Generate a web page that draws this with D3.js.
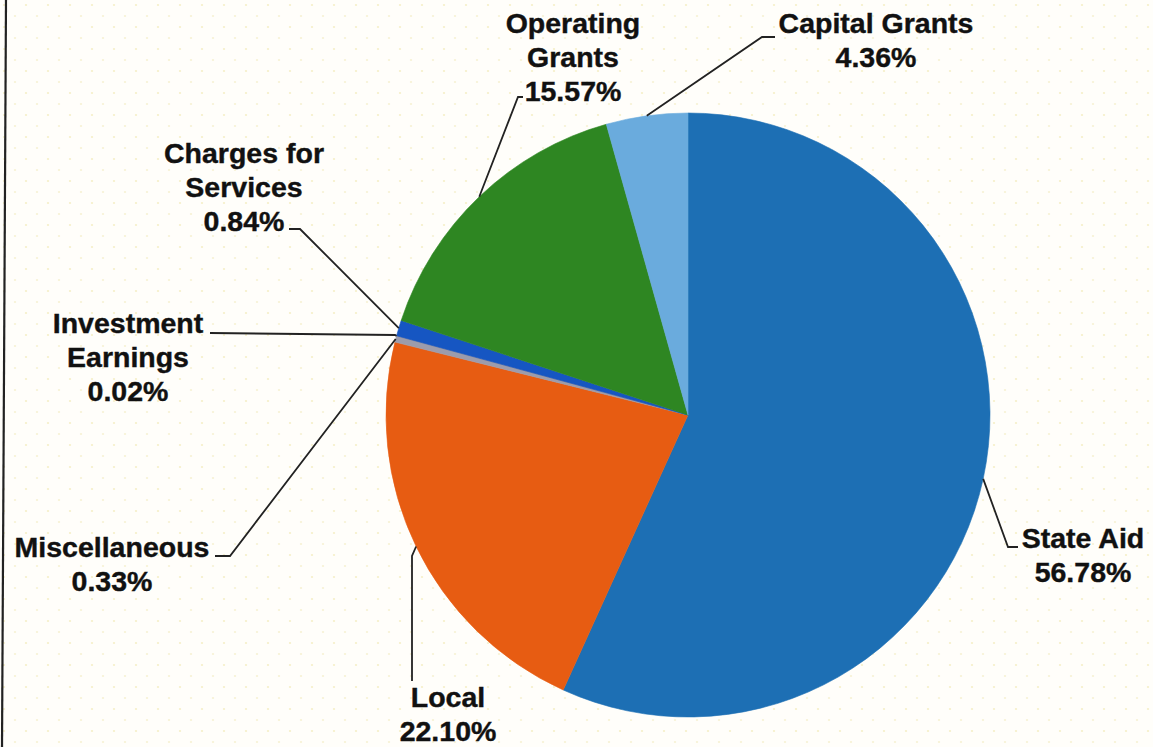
<!DOCTYPE html>
<html>
<head>
<meta charset="utf-8">
<script src="https://cdn.jsdelivr.net/npm/d3@7"></script>
<style>
  html, body { margin: 0; padding: 0; background: #fffefa; }
  svg { display: block; }
  .lbl { font-family: "Liberation Sans", Arial, sans-serif; font-weight: bold; font-size: 28.5px; fill: #111; stroke: #111; stroke-width: 0.4px; }
</style>
</head>
<body>
<div class="chart-area"></div>
<script>
// revenue pie - share of total revenues

// ---- Data ----
const categories = ["State Aid", "Local", "Miscellaneous", "Investment Earnings",
                    "Charges for Services", "Operating Grants", "Capital Grants"];
const shares = [56.78, 22.10, 0.33, 0.02, 0.84, 15.57, 4.36];
const shareLabels = ["56.78%", "22.10%", "0.33%", "0.02%", "0.84%", "15.57%", "4.36%"];
const labelLines = [["State Aid"], ["Local"], ["Miscellaneous"], ["Investment", "Earnings"],
                    ["Charges for", "Services"], ["Operating", "Grants"], ["Capital Grants"]];

// ---- Layout ----
const width = 1153, height = 747;
const cx = 688, cy = 415, radius = 302;
const lineGap = 34;

const colors = ["#1d6fb4", "#e75c12", "#9c9cac", "#8a8a9a", "#1656c2", "#2e8622", "#6aabdd"];

// label block: x center, first baseline; leader: elbow point and end point
const labelPos = [
  { x: 1083, y: 548, elbow: [1008, 547], end: [1018, 547] },
  { x: 448,  y: 707, elbow: [412, 556],  end: [412, 681] },
  { x: 112,  y: 557, elbow: [230, 556],  end: [215, 556] },
  { x: 128,  y: 333, elbow: [395, 335],  end: [210, 333] },
  { x: 244,  y: 163, elbow: [300, 229],  end: [289, 229] },
  { x: 573,  y: 33,  elbow: [518, 97],   end: [523, 97] },
  { x: 876,  y: 33,  elbow: [762, 37],   end: [775, 37] }
];

const svg = d3.select(".chart-area").append("svg")
    .attr("width", width)
    .attr("height", height);

// dotted paper background
const defs = svg.append("defs");
const pat = defs.append("pattern")
    .attr("id", "dots")
    .attr("width", 22).attr("height", 22)
    .attr("patternUnits", "userSpaceOnUse");
pat.append("rect").attr("width", 22).attr("height", 22).attr("fill", "#fffefa");
pat.append("circle").attr("cx", 4).attr("cy", 5).attr("r", 1.1).attr("fill", "#f6f0c8");
pat.append("circle").attr("cx", 15).attr("cy", 16).attr("r", 1.1).attr("fill", "#f7f2d4");

svg.append("rect")
    .attr("width", width).attr("height", height)
    .attr("fill", "url(#dots)");

// left frame edge
svg.append("line")
    .attr("x1", 6).attr("y1", 0)
    .attr("x2", 2).attr("y2", height)
    .attr("stroke", "#222")
    .attr("stroke-width", 2.2);

// pie
const pie = d3.pie().sort(null).value(d => d);
const arcs = pie(shares);

const arc = d3.arc().innerRadius(0).outerRadius(radius);

const pieGroup = svg.append("g")
    .attr("transform", `translate(${cx}, ${cy})`);

pieGroup.selectAll("path")
    .data(arcs)
    .join("path")
    .attr("d", arc)
    .attr("fill", (d, i) => colors[i])
    .attr("stroke", (d, i) => colors[i])
    .attr("stroke-width", 0.6);

// leader lines
const edgePoint = d => {
    const a = (d.startAngle + d.endAngle) / 2;
    return [cx + radius * Math.sin(a), cy - radius * Math.cos(a)];
};

svg.selectAll("polyline.leader")
    .data(arcs)
    .join("polyline")
    .attr("class", "leader")
    .attr("points", (d, i) => {
        const p = edgePoint(d);
        return [p, labelPos[i].elbow, labelPos[i].end].map(q => q.join(",")).join(" ");
    })
    .attr("fill", "none")
    .attr("stroke", "#222")
    .attr("stroke-width", 1.8);

// labels
const labels = svg.selectAll("text.lbl")
    .data(arcs)
    .join("text")
    .attr("class", "lbl")
    .attr("text-anchor", "middle")
    .attr("x", (d, i) => labelPos[i].x)
    .attr("y", (d, i) => labelPos[i].y);

labels.each(function(d, i) {
    const t = d3.select(this);
    const lines = labelLines[i].concat([shareLabels[i]]);
    lines.forEach((s, k) => {
        t.append("tspan")
            .attr("x", labelPos[i].x)
            .attr("dy", k === 0 ? 0 : lineGap)
            .text(s);
    });
});
</script>
</body>
</html>
